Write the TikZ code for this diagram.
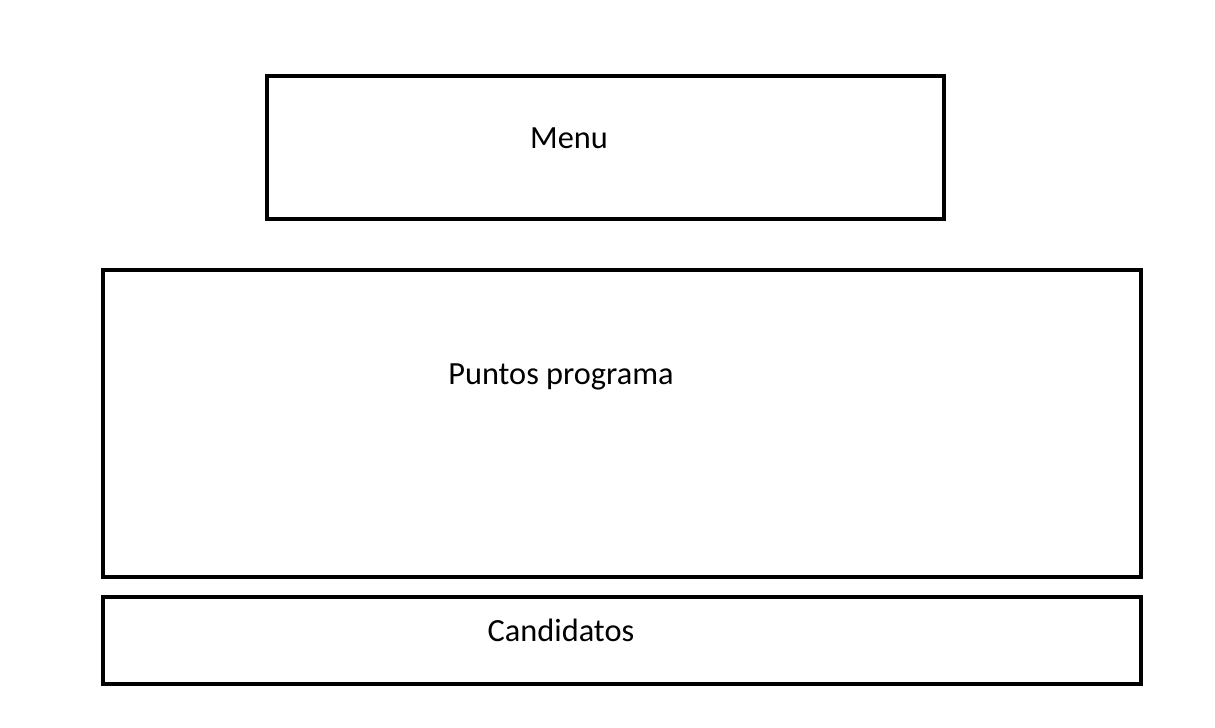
\documentclass[tikz,border=0pt]{standalone}
\usepackage{fontspec}
\setmainfont{Carlito}
\usepackage{tikz}

\begin{document}
\begin{tikzpicture}[line width=1.3pt,
    panel/.style={draw=black, rectangle, inner sep=0pt},
    caption/.style={font=\fontsize{9.2}{11}\selectfont}]
    \useasboundingbox (0,0) rectangle (12.15,-7.28);
    % outer boxes
    \node[panel, minimum width=6.77cm, minimum height=1.43cm] (menu) at (6.055,-1.475) {};
    \node[panel, minimum width=10.38cm, minimum height=3.07cm] (puntos) at (6.22,-4.235) {};
    \node[panel, minimum width=10.38cm, minimum height=0.87cm] (cand) at (6.22,-6.405) {};
    % labels
    \node[caption] (menutxt) at (5.69,-1.38) {Menu};
    \node[caption] (puntostxt) at (5.61,-3.77) {Puntos programa};
    \node[caption] (candtxt) at (5.61,-6.30) {Candidatos};
\end{tikzpicture}
\end{document}
